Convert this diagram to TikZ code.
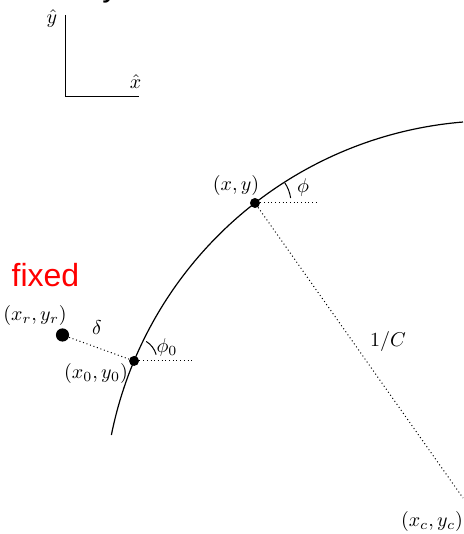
\documentclass[tikz,border=0pt]{standalone}
\usepackage{fontspec}
\newfontfamily\labelsans{Liberation Sans}
\usetikzlibrary{calc}
\begin{document}
\begin{tikzpicture}[x=0.5pt,y=0.5pt,
  curve/.style={line width=0.6pt},
  axisline/.style={line width=0.5pt},
  dotline/.style={line width=0.5pt,dash pattern=on 0.5pt off 1.35pt},
  smalldot/.style={circle,fill=black,inner sep=0pt,minimum size=5pt},
  bigdot/.style={circle,fill=black,inner sep=0pt,minimum size=6.6pt},
  lab/.style={inner sep=0pt},
  anglearc/.style={line width=0.5pt}]
\useasboundingbox (0,0) rectangle (464,534);
% cut-off title fragment
\node[lab,anchor=base west,font=\labelsans\fontsize{16}{19}\selectfont] (title) at (102,537) {y};
% axes
\coordinate (ytop) at (65,519);
\coordinate (orig) at (65,437);
\coordinate (xend) at (139,437);
\draw[axisline] (ytop) -- (orig) -- (xend);
\node[lab] (yhat) at (52,515) {$\hat{y}$};
\node[lab] (xhat) at (135.5,452) {$\hat{x}$};
% trajectory arc
\coordinate (ctr) at (495,22);
\draw[curve] ($(ctr)+(168.65:195.65pt)$) arc[start angle=168.65,end angle=94.69,radius=195.65pt];
% points
\node[smalldot] (p) at ($(ctr)+(127.84:195.65pt)$) {};
\node[smalldot] (p0) at ($(ctr)+(157.29:195.65pt)$) {};
\node[bigdot] (r) at (62.5,199) {};
\coordinate (c) at (463,36);
\coordinate (ph) at ($(p)+(31.5pt,0)$);
\coordinate (p0h) at ($(p0)+(29.5pt,0)$);
% dotted connectors
\draw[dotline] (p) -- (ph);
\draw[dotline] (p) -- (c);
\draw[dotline] (p0) -- (p0h);
\draw[dotline] (r) -- (p0);
% angle arcs
\draw[anglearc] ($(p)+(8:18pt)$) arc[start angle=8,end angle=34,radius=18pt];
\draw[anglearc] ($(p0)+(16:11.5pt)$) arc[start angle=16,end angle=58,radius=11.5pt];
% labels
\node[lab] (lxy) at (236,348) {$(x,y)$};
\node[lab] (lphi) at (303,346) {$\phi$};
\node[lab] (lxr) at (35,218) {$(x_r,y_r)$};
\node[lab] (ldelta) at (97,206) {$\delta$};
\node[lab] (lx0) at (96,160) {$(x_0,y_0)$};
\node[lab] (lphi0) at (167,186) {$\phi_0$};
\node[lab] (lC) at (388,192) {$1/C$};
\node[lab] (lxc) at (432,13) {$(x_c,y_c)$};
\node[lab,text=red,font=\labelsans\fontsize{16}{19}\selectfont] (fixed) at (45.5,259) {fixed};
\end{tikzpicture}
\end{document}
